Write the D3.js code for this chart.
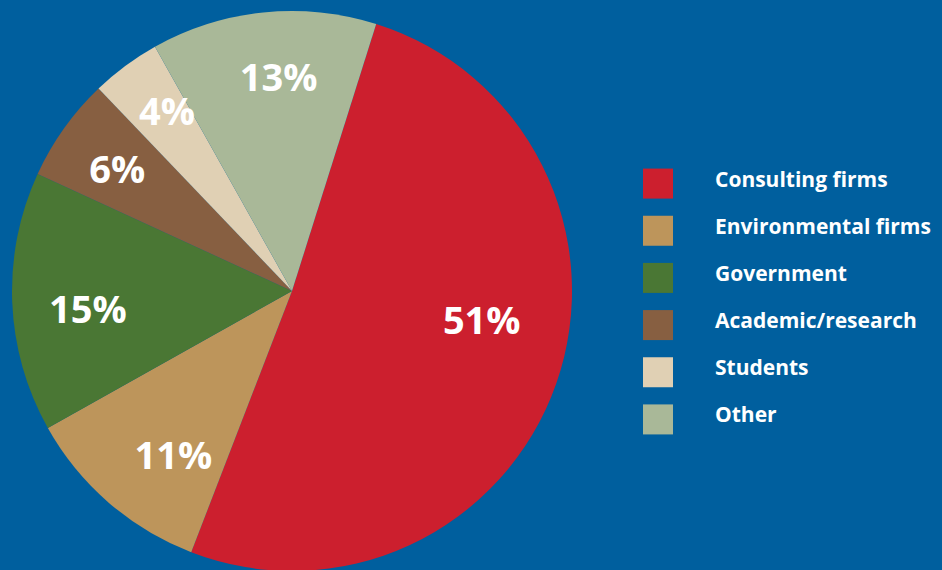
<!DOCTYPE html>
<html>
<head>
<meta charset="utf-8">
<script src="https://cdn.jsdelivr.net/npm/d3@7/dist/d3.min.js"></script>
<style>
  html, body { margin: 0; padding: 0; background: #005f9e; }
  svg { display: block; }
  text { font-family: "Open Sans", sans-serif; font-weight: 700; fill: #ffffff; }
</style>
</head>
<body>
<svg id="chart" width="942" height="570"></svg>
<script>
// Share of respondents by sector (percent)
const categories = ["Consulting firms", "Environmental firms", "Government", "Academic/research", "Students", "Other"];
const shares = [51, 11, 15, 6, 4, 13];
const colors = ["#cc1f2e", "#bd955b", "#4a7734", "#875f41", "#e0d0b4", "#a9b898"];

const width = 942, height = 570;
const cx = 292, cy = 291, radius = 280;

const svg = d3.select("#chart");
svg.append("rect").attr("width", width).attr("height", height).attr("fill", "#005f9e");

const data = categories.map((c, i) => ({ category: c, value: shares[i], color: colors[i] }));

// Pie begins a little past twelve o'clock and runs clockwise
const startOffset = 17.5 * Math.PI / 180;
const pie = d3.pie()
  .value(d => d.value)
  .sort(null)
  .startAngle(startOffset)
  .endAngle(startOffset + 2 * Math.PI);

const arc = d3.arc().innerRadius(0).outerRadius(radius);

const g = svg.append("g").attr("transform", `translate(${cx},${cy})`);
const arcs = pie(data);

g.selectAll("path.slice")
  .data(arcs)
  .join("path")
  .attr("class", "slice")
  .attr("d", arc)
  .attr("fill", d => d.data.color);

// Label placement: distance from centre and position along each slice's sweep
const labelRadius = {
  "Consulting firms": 192, "Environmental firms": 203, "Government": 205,
  "Academic/research": 213, "Students": 219, "Other": 214
};
const labelFraction = {
  "Consulting firms": 0.443, "Environmental firms": 0.37, "Government": 0.45,
  "Academic/research": 0.47, "Students": 0.62, "Other": 0.55
};
g.selectAll("text.pct")
  .data(arcs)
  .join("text")
  .attr("class", "pct")
  .attr("text-anchor", "middle")
  .attr("dy", "0.36em")
  .attr("font-size", 38)
  .attr("transform", d => {
    const f = labelFraction[d.data.category] ?? 0.5;
    const r = labelRadius[d.data.category] ?? 210;
    const a = d.startAngle + (d.endAngle - d.startAngle) * f;
    return `translate(${r * Math.sin(a)},${-r * Math.cos(a)})`;
  })
  .text(d => d.data.value + "%");

// Legend
const legendY = d3.scaleBand().domain(categories).range([160, 443]).paddingInner(0).paddingOuter(0);
const legend = svg.append("g").selectAll("g")
  .data(data)
  .join("g")
  .attr("transform", d => `translate(643,${legendY(d.category) + legendY.bandwidth() / 2})`);

legend.append("rect")
  .attr("x", 0).attr("y", -15)
  .attr("width", 30).attr("height", 30)
  .attr("fill", d => d.color);

legend.append("text")
  .attr("x", 72)
  .attr("y", 3)
  .attr("font-size", 21)
  .text(d => d.category);
</script>
</body>
</html>
